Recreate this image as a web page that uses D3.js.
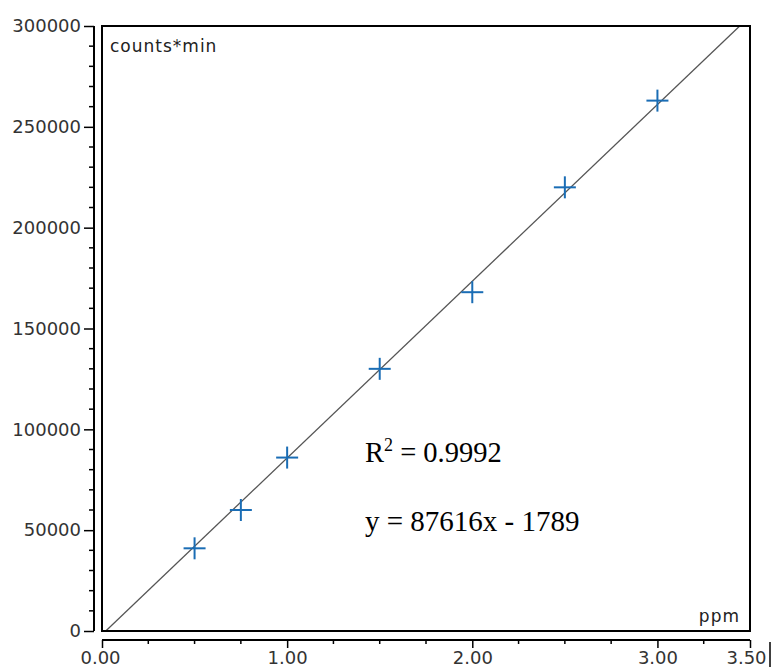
<!DOCTYPE html>
<html>
<head>
<meta charset="utf-8">
<script src="https://cdn.jsdelivr.net/npm/d3@7"></script>
<style>
html,body{margin:0;padding:0;background:#fff;}
svg{display:block;}
</style>
</head>
<body>
<script>
// ---- data ----
const concentrations = [0, 0.5, 0.75, 1.0, 1.5, 2.0, 2.5, 3.0];
const counts = [0, 41000, 60000, 86000, 130000, 168000, 220000, 263000];
const fitSlope = 87616;
const fitIntercept = -1789;
const rSquaredText = "0.9992";
const equationText = "y = 87616x - 1789";
const xTickValues = [0, 1, 2, 3, 3.5];
const yTickValues = [0, 50000, 100000, 150000, 200000, 250000, 300000];
const yAxisTitle = "counts*min";
const xAxisTitle = "ppm";

const W = 775, H = 671;
const L = 102, R = 750, T = 26, B = 631;

const svg = d3.select("body").append("svg").attr("width", W).attr("height", H);

const x = d3.scaleLinear().domain([0, 3.5]).range([L, R]);
const y = d3.scaleLinear().domain([0, 300000]).range([B, T]);

svg.append("defs").append("clipPath").attr("id", "plotclip")
  .append("rect").attr("x", L).attr("y", T).attr("width", R - L).attr("height", B - T);

const plot = svg.append("g").attr("clip-path", "url(#plotclip)");

// fit line
const x0 = -fitIntercept / fitSlope;
const x1 = (300000 - fitIntercept) / fitSlope;
plot.append("line")
  .attr("x1", x(x0)).attr("y1", y(0))
  .attr("x2", x(x1)).attr("y2", y(300000))
  .attr("stroke", "#555").attr("stroke-width", 1.3);

// cross markers
const s = 11;
const pts = plot.selectAll("g.pt").data(concentrations.map((c, i) => [c, counts[i]]))
  .enter().append("g").attr("class", "pt")
  .attr("transform", d => `translate(${x(d[0])},${y(d[1])})`);
pts.append("line").attr("x1", -s).attr("x2", s).attr("y1", 0).attr("y2", 0)
  .attr("stroke", "#1a6db5").attr("stroke-width", 2);
pts.append("line").attr("x1", 0).attr("x2", 0).attr("y1", -s).attr("y2", s)
  .attr("stroke", "#1a6db5").attr("stroke-width", 2);

// plot box
svg.append("rect").attr("x", L).attr("y", T).attr("width", R - L).attr("height", B - T)
  .attr("fill", "none").attr("stroke", "#000").attr("stroke-width", 2);

// y axis (offset to the left)
const yAxisX = 94;
const yAxis = d3.axisLeft(y).tickValues(yTickValues).tickSize(10).tickPadding(3)
  .tickFormat(d3.format("d"));
const gy = svg.append("g").attr("transform", `translate(${yAxisX},0)`).call(yAxis);
gy.select(".domain").attr("d", `M0,${T}V${B}`).attr("stroke", "#000").attr("stroke-width", 2);
gy.selectAll(".tick line").attr("stroke", "#000").attr("stroke-width", 1.5);
gy.selectAll(".tick text").attr("font-family", "DejaVu Sans").attr("font-size", 18).attr("fill", "#333");
const yMinor = d3.range(0, 300001, 10000).filter(v => v % 50000 !== 0);
gy.selectAll("line.minor").data(yMinor).enter().append("line").attr("class", "minor")
  .attr("x1", -5).attr("x2", 0).attr("y1", d => y(d)).attr("y2", d => y(d))
  .attr("stroke", "#000").attr("stroke-width", 1.5);

// x axis (offset below)
const xAxisY = 640;
const xAxis = d3.axisBottom(x).tickValues(xTickValues).tickSize(8).tickPadding(3)
  .tickFormat(d3.format(".2f"));
const gx = svg.append("g").attr("transform", `translate(0,${xAxisY})`).call(xAxis);
gx.select(".domain").attr("d", `M${L},0H${R}`).attr("stroke", "#000").attr("stroke-width", 2);
gx.selectAll(".tick line").attr("stroke", "#000").attr("stroke-width", 1.5);
gx.selectAll(".tick text").attr("font-family", "DejaVu Sans").attr("font-size", 18).attr("fill", "#333");
gx.selectAll(".tick").filter(d => d === 0).select("text").attr("dx", -2);
gx.selectAll(".tick").filter(d => d === 3.5).select("text").attr("dx", -4);
const xMinor = d3.range(0.25, 3.5, 0.25).filter(v => !xTickValues.includes(v));
gx.selectAll("line.minor").data(xMinor).enter().append("line").attr("class", "minor")
  .attr("x1", d => x(d)).attr("x2", d => x(d)).attr("y1", 0).attr("y2", 4)
  .attr("stroke", "#000").attr("stroke-width", 1.5);

// small bar after 3.50
svg.append("line").attr("x1", 770).attr("x2", 770).attr("y1", 642).attr("y2", 667)
  .attr("stroke", "#000").attr("stroke-width", 1.5);

// axis titles inside plot
svg.append("text").attr("x", 110).attr("y", 52)
  .attr("font-family", "DejaVu Sans").attr("font-size", 17).attr("letter-spacing", 1)
  .attr("fill", "#222").text(yAxisTitle);
svg.append("text").attr("x", 740).attr("y", 622).attr("text-anchor", "end")
  .attr("font-family", "DejaVu Sans").attr("font-size", 17).attr("letter-spacing", 1)
  .attr("fill", "#222").text(xAxisTitle);

// annotations
const r2 = svg.append("text").attr("x", 365).attr("y", 462)
  .attr("font-family", "Liberation Serif").attr("font-size", 28.5).attr("fill", "#000");
r2.append("tspan").text("R");
r2.append("tspan").attr("font-size", 18).attr("dy", -11).text("2");
r2.append("tspan").attr("dy", 11).text(" = " + rSquaredText);

svg.append("text").attr("x", 365).attr("y", 531)
  .attr("font-family", "Liberation Serif").attr("font-size", 29).attr("fill", "#000")
  .text(equationText);
</script>
</body>
</html>
